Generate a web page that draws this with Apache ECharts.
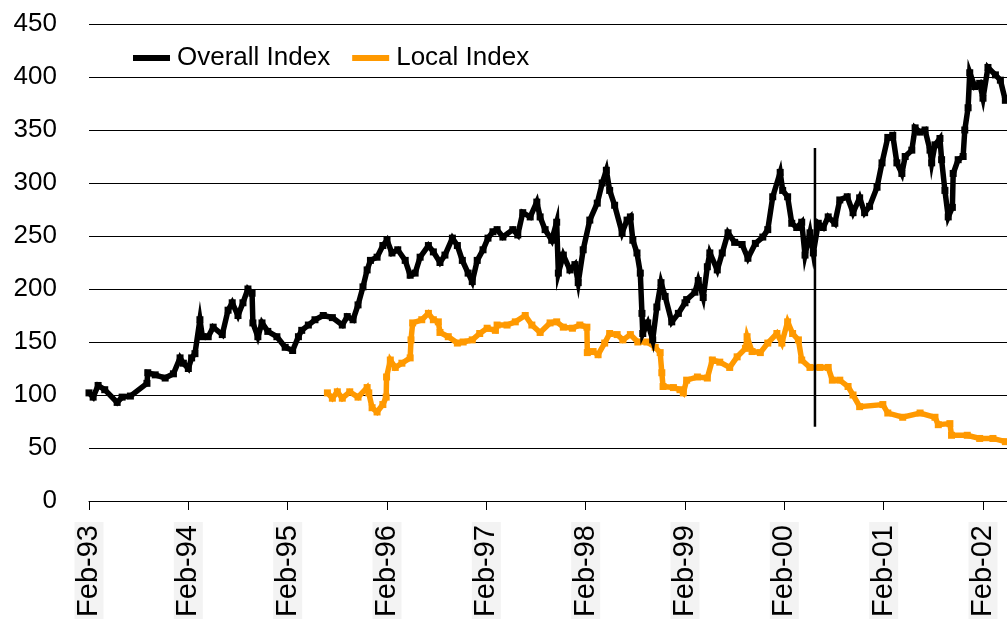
<!DOCTYPE html>
<html>
<head>
<meta charset="utf-8">
<script src="https://cdn.jsdelivr.net/npm/echarts@6/dist/echarts.min.js"></script>
<style>
html,body{margin:0;padding:0;background:#fff;}
#chart{width:1007px;height:619px;}
</style>
</head>
<body>
<div id="chart"></div>
<script>
// x values: months since Feb-93
const overallMonths = [0,0.5,1.1,1.9,3.4,4.0,5.0,7.0,7.1,8.0,9.2,10.2,11.0,11.4,12.0,12.4,12.8,13.4,13.7,14.4,15.0,16.1,16.8,17.3,18.0,18.6,19.2,19.7,19.8,20.4,20.9,21.6,22.7,23.7,24.6,25.3,25.7,26.5,27.3,28.3,29.4,30.6,31.2,31.9,32.5,33.1,33.6,34.0,34.8,35.5,36.0,36.6,37.3,38.2,38.8,39.4,40.0,41.0,41.6,42.4,43.0,43.9,44.5,45.1,45.8,46.3,46.9,47.6,48.2,48.8,49.3,50.0,51.2,51.8,52.4,53.3,54.1,54.5,55.1,55.9,56.5,56.7,57.3,58.1,58.7,59.1,59.7,60.5,61.4,62.0,62.5,62.9,63.5,64.4,65.0,65.4,65.7,66.2,66.6,66.8,66.9,67.5,68.1,68.6,69.1,69.6,70.4,71.2,72.0,72.2,73.2,73.6,74.2,74.7,75.0,75.9,76.5,77.2,78.0,78.9,79.6,80.5,81.4,82.0,82.6,83.5,83.8,84.4,84.9,85.5,86.1,86.5,87.1,87.5,88.1,88.7,89.3,90.1,90.7,91.6,92.3,93.1,93.7,94.3,95.2,95.8,96.5,97.1,97.6,98.2,98.6,99.4,99.8,100.4,101.0,101.6,101.8,102.2,102.8,103.0,103.4,103.8,104.3,104.4,105.0,105.6,105.8,106.2,106.4,107.0,107.6,108.0,108.6,109.5,110.1,110.7];
const overallValues = [102,98,109,105,93,98,99,111,121,119,116,120,135,130,125,135,139,171,155,155,164,157,180,187,175,187,200,196,168,155,168,160,155,145,142,155,161,166,171,175,173,166,174,171,185,202,218,227,230,241,246,234,237,227,213,215,230,241,235,225,232,248,241,227,215,207,227,237,248,254,256,249,256,251,272,268,282,268,256,246,263,215,232,218,223,206,237,265,281,300,312,293,279,253,265,268,246,234,215,177,158,168,152,183,206,193,169,177,187,190,197,208,192,221,234,218,234,253,244,242,229,243,249,256,287,310,293,287,262,258,263,232,253,234,262,258,268,262,284,287,272,286,272,278,296,319,343,345,319,309,325,331,352,348,350,331,319,336,342,322,293,268,277,309,322,325,350,371,404,391,394,380,409,402,397,378];

const localMonths = [28.8,29.4,30.0,30.6,31.5,32.5,33.6,33.8,34.2,34.8,35.5,35.9,35.95,36.4,37.0,37.8,38.8,38.9,39.1,40.2,41.0,41.6,42.2,42.4,43.4,44.5,45.2,46.3,47.2,48.1,49.1,49.3,50.5,51.5,52.7,53.5,54.5,55.7,56.5,57.3,58.4,59.3,60.15,60.2,60.9,61.5,62.3,62.9,63.8,64.5,65.4,66.3,67.4,68.4,69.0,69.2,69.35,70.6,71.4,71.8,72.2,73.5,74.7,75.3,76.2,77.4,78.3,79.3,79.5,80.1,81.1,82.0,83.1,83.7,84.4,85.0,85.7,86.1,87.1,88.3,89.3,89.8,90.7,91.7,92.3,93.1,95.9,96.5,98.3,100.4,102.2,102.6,104.0,104.2,106.1,107.6,109.2,110.7];
const localValues = [102,97,103,97,103,98,107,102,88,84,91,98,117,133,126,130,135,152,168,171,177,171,169,159,155,149,150,152,158,163,161,166,166,169,175,166,159,168,169,164,163,166,164,140,141,138,149,158,157,152,157,150,150,145,140,121,108,107,105,102,114,117,116,133,131,126,136,144,155,141,140,149,158,149,169,158,152,133,126,126,126,114,114,108,100,89,91,83,79,83,79,72,73,62,62,59,59,56];

const markerMonths = [87.7, 87.7];
const markerValues = [333, 70];

const yTicks = [0,50,100,150,200,250,300,350,400,450];
const xTickMonths = [0,12,24,36,48,60,72,84,96,108];
const xTickLabels = ['Feb-93','Feb-94','Feb-95','Feb-96','Feb-97','Feb-98','Feb-99','Feb-00','Feb-01','Feb-02'];

const zip = (a, b) => a.map((v, i) => [v, b[i]]);
const FONT = 'Liberation Sans, Arial, Helvetica, sans-serif';

const chart = echarts.init(document.getElementById('chart'), null, {renderer: 'canvas'});
chart.setOption({
  animation: false,
  backgroundColor: '#fff',
  grid: {left: 89, right: 0, top: 24, bottom: 118, containLabel: false, outerBoundsMode: 'none'},
  legend: {
    data: ['Overall Index', 'Local Index'],
    left: 133, top: 45, padding: 0,
    icon: 'rect', itemWidth: 37, itemHeight: 6, itemGap: 22,
    textStyle: {fontFamily: FONT, fontSize: 26, color: '#000', padding: [0,0,0,2]}
  },
  xAxis: {
    type: 'value', min: 0, max: 110.9,
    splitLine: {show: false},
    axisLine: {show: true, onZero: false, lineStyle: {color: '#000', width: 1}},
    axisTick: {show: true, inside: false, length: 9, lineStyle: {color: '#000', width: 1}, customValues: xTickMonths},
    axisLabel: {
      customValues: xTickMonths,
      rotate: 90, margin: 21,
      fontFamily: FONT, fontSize: 29, color: '#000',
      backgroundColor: '#f3f3f3', padding: [0, 3, 0, 3],
      formatter: v => { const i = xTickMonths.indexOf(Math.round(v)); return i >= 0 ? xTickLabels[i] : ''; }
    }
  },
  yAxis: {
    type: 'value', min: 0, max: 450, interval: 50,
    axisLine: {show: false}, axisTick: {show: false},
    splitLine: {show: true, lineStyle: {color: '#000', width: 1}},
    axisLabel: {margin: 32, fontFamily: FONT, fontSize: 26, color: '#000',
      formatter: v => yTicks.includes(v) ? String(v) : ''}
  },
  series: [
    {name: 'Overall Index', type: 'line', data: zip(overallMonths, overallValues),
     showSymbol: true, symbol: 'rect', symbolSize: 7, color: '#000',
     itemStyle: {color: '#000'},
     lineStyle: {color: '#000', width: 5.5, join: 'miter'}, z: 3},
    {name: 'Local Index', type: 'line', data: zip(localMonths, localValues),
     showSymbol: true, symbol: 'rect', symbolSize: 7, color: '#ff9900',
     itemStyle: {color: '#ff9900'},
     lineStyle: {color: '#ff9900', width: 5.5, join: 'miter'}, z: 2},
    {name: 'marker', type: 'line', data: zip(markerMonths, markerValues),
     showSymbol: false, symbol: 'none', color: '#000',
     lineStyle: {color: '#000', width: 2.5}, z: 4}
  ]
});
</script>
</body>
</html>
